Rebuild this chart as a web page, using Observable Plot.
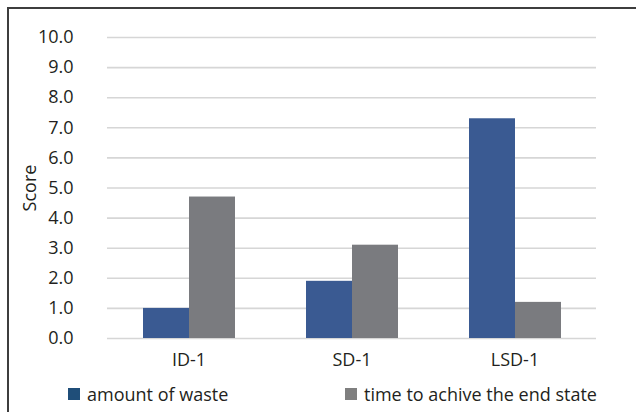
<!DOCTYPE html>
<html>
<head>
<meta charset="utf-8">
<script src="https://cdn.jsdelivr.net/npm/d3@7"></script>
<script src="https://cdn.jsdelivr.net/npm/@observablehq/plot@0.6"></script>
<style>
  html, body { margin: 0; padding: 0; background: #fff; overflow: hidden; }
  #wrap { position: relative; width: 636px; height: 412px; overflow: hidden; font-family: "Open Sans", sans-serif; color: #231f20; }
  #frame { position: absolute; left: 7px; top: 7px; width: 700px; height: 500px; border-left: 2px solid #3d3d3d; border-top: 2px solid #3d3d3d; }
  #chart { position: absolute; left: 0; top: 0; }
  #legend { position: absolute; left: 0; top: 375px; width: 636px; height: 37px; font-size: 18px; }
  .item { position: absolute; top: 0; height: 37px; display: flex; align-items: center; white-space: nowrap; }
  .swatch { width: 12px; height: 12px; margin-right: 7px; }
</style>
</head>
<body>
<div id="wrap">
  <div id="frame"></div>
  <div id="chart"></div>
  <div id="legend"></div>
</div>
<script>
// Design options and their scores
const categories = ["ID-1", "SD-1", "LSD-1"];
const series = ["amount of waste", "time to achive the end state"];
const wasteScores = [1.0, 1.9, 7.3];
const timeScores = [4.7, 3.1, 1.2];
const yTicks = [0, 1, 2, 3, 4, 5, 6, 7, 8, 9, 10];

const barColors = ["#3a5a92", "#7a7b7f"];
const legendColors = ["#1f4e79", "#7f7f7f"];

const rows = categories.flatMap((c, i) => [
  {category: c, series: series[0], value: wasteScores[i]},
  {category: c, series: series[1], value: timeScores[i]}
]);

const chart = Plot.plot({
  width: 636,
  height: 375,
  marginLeft: 107,
  marginRight: 40,
  marginTop: 37,
  marginBottom: 37,
  style: {fontFamily: "Open Sans, sans-serif", fontSize: "18px", color: "#231f20", background: "transparent"},
  fx: {domain: categories, padding: 0, label: null},
  x: {domain: series, paddingInner: 0, paddingOuter: 0.753, axis: null},
  y: {domain: [0, 10], label: null},
  color: {domain: series, range: barColors},
  marks: [
    Plot.gridY(yTicks, {stroke: "#d6d6d6", strokeOpacity: 1, strokeWidth: 1.6}),
    Plot.barY(rows, {fx: "category", x: "series", y: "value", fill: "series"}),
    Plot.axisY(yTicks, {
      tickSize: 0,
      tickPadding: 34,
      tickFormat: d => d.toFixed(1),
      label: "Score",
      labelArrow: "none",
      labelAnchor: "center",
      labelOffset: 84
    }),
    Plot.axisFx({tickSize: 0, tickPadding: 15, label: null, anchor: "bottom"})
  ]
});
document.getElementById("chart").appendChild(chart);

// Legend below the plot
const legend = d3.select("#legend");
const legendLeft = [68, 345];
series.forEach((s, i) => {
  const item = legend.append("div").attr("class", "item").style("left", legendLeft[i] + "px");
  item.append("div").attr("class", "swatch").style("background", legendColors[i]);
  item.append("span").text(s);
});
</script>
</body>
</html>
